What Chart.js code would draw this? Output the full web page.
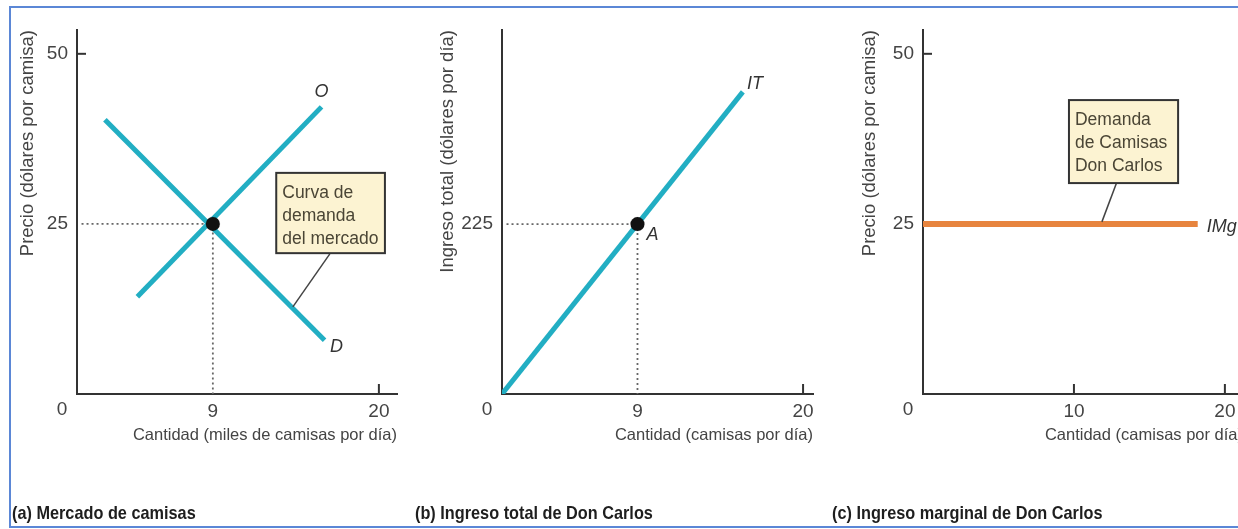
<!DOCTYPE html>
<html lang="es">
<head>
  <meta charset="UTF-8">
  <title>Mercado de camisas - Don Carlos</title>
  <script src="https://cdn.jsdelivr.net/npm/chart.js"></script>
  <style>
    body { margin: 0; width: 1238px; height: 529px; overflow: hidden; background: #fff; position: relative; }
    #frame { position: absolute; left: 9px; top: 6px; width: 1300px; height: 518px; border: 2px solid #5b87d6; border-right: none; }
    canvas { position: absolute; top: 0; }
    .cap { position: absolute; top: 502px; font-family: "Liberation Sans", Arial, sans-serif; white-space: nowrap;
           font-weight: bold; font-size: 18.5px; color: #1e1e1e; transform: scaleX(0.88); transform-origin: left top; }
  </style>
</head>
<body>
  <div id="frame"></div>
  <canvas id="chartA" width="410" height="529" style="left:0"></canvas>
  <canvas id="chartB" width="420" height="529" style="left:410px"></canvas>
  <canvas id="chartC" width="420" height="529" style="left:830px"></canvas>
  <div class="cap" style="left:12px">(a) Mercado de camisas</div>
  <div class="cap" style="left:415px">(b) Ingreso total de Don Carlos</div>
  <div class="cap" style="left:832px">(c) Ingreso marginal de Don Carlos</div>

  <script>
    // (a) mercado: oferta O y demanda D (miles de camisas, dólares)
    const supplyQ = [4.0, 16.2];
    const supplyP = [14.3, 42.2];
    const demandQ = [1.85, 16.4];
    const demandP = [40.3, 7.9];
    const eqQ = 9;
    const eqP = 25;

    // (b) ingreso total IT
    const itQ = [0, 16];
    const itValue = [0, 400];
    const pointA = [9, 225];

    // (c) ingreso marginal IMg
    const imgQ = [0, 18.2];
    const imgP = [25, 25];

    // marcas de los ejes
    const ticksAx = [9, 20], ticksAy = [25, 50];
    const ticksBx = [9, 20], ticksBy = [225];
    const ticksCx = [10, 20], ticksCy = [25, 50];

    const TEAL = '#22aec3';
    const ORANGE = '#e7843e';
    const FONT = '"Liberation Sans", Arial, sans-serif';

    const pts = (xs, ys) => xs.map((v, i) => ({ x: v, y: ys[i] }));

    // dibuja etiquetas, cajas, líneas guía y marcas interiores
    const extras = {
      id: 'extras',
      afterDatasetsDraw(chart, args, opts) {
        const { ctx, chartArea } = chart;
        const sx = chart.scales.x, sy = chart.scales.y;
        const px = v => sx.getPixelForValue(v);
        const py = v => sy.getPixelForValue(v);
        ctx.save();
        ctx.strokeStyle = '#333';
        ctx.lineWidth = 2;
        (opts.xMarks || []).forEach(v => {
          ctx.beginPath();
          ctx.moveTo(px(v), chartArea.bottom);
          ctx.lineTo(px(v), chartArea.bottom - 10);
          ctx.stroke();
        });
        (opts.yMarks || []).forEach(v => {
          ctx.beginPath();
          ctx.moveTo(chartArea.left, py(v));
          ctx.lineTo(chartArea.left + 9, py(v));
          ctx.stroke();
        });
        ctx.lineWidth = 1.5;
        ctx.strokeStyle = '#444';
        (opts.leaders || []).forEach(l => {
          ctx.beginPath();
          ctx.moveTo(px(l[0]), py(l[1]));
          ctx.lineTo(px(l[2]), py(l[3]));
          ctx.stroke();
        });
        (opts.boxes || []).forEach(b => {
          const x0 = px(b.x0), x1 = px(b.x1), y0 = py(b.y0), y1 = py(b.y1);
          ctx.fillStyle = '#fcf3d2';
          ctx.fillRect(x0, y0, x1 - x0, y1 - y0);
          ctx.lineWidth = 2;
          ctx.strokeStyle = '#333';
          ctx.strokeRect(x0, y0, x1 - x0, y1 - y0);
          ctx.fillStyle = '#4a4535';
          ctx.font = '17.5px ' + FONT;
          ctx.textAlign = 'left';
          ctx.textBaseline = 'middle';
          b.lines.forEach((t, i) => ctx.fillText(t, x0 + 6, y0 + 20 + i * 23));
        });
        ctx.fillStyle = '#333';
        ctx.font = 'italic 18px ' + FONT;
        ctx.textBaseline = 'middle';
        (opts.labels || []).forEach(l => {
          ctx.textAlign = l.align || 'center';
          ctx.fillText(l.text, px(l.x), py(l.y));
        });
        if (opts.origin) {
          ctx.font = '19px ' + FONT;
          ctx.fillStyle = '#444';
          ctx.textAlign = 'center';
          ctx.fillText(opts.origin, chartArea.left - 15, chartArea.bottom + 16);
        }
        ctx.restore();
      }
    };

    function makeChart(id, cfg) {
      return new Chart(document.getElementById(id), {
        type: 'line',
        data: { datasets: cfg.datasets },
        plugins: [extras],
        options: {
          responsive: false,
          animation: false,
          layout: { padding: { top: 30, bottom: 75, left: 0, right: cfg.padRight } },
          elements: { line: { tension: 0, borderCapStyle: 'butt' }, point: { radius: 0 } },
          plugins: { legend: { display: false }, tooltip: { enabled: false }, extras: cfg.extras },
          scales: {
            x: {
              type: 'linear', min: 0, max: cfg.xMax,
              afterBuildTicks: s => { s.ticks = cfg.xTicks.map(v => ({ value: v })); },
              afterFit: s => { s.height = 60; },
              grid: { display: false, drawTicks: false },
              border: { display: true, color: '#333', width: 2 },
              ticks: { padding: 6, color: '#444', font: { family: FONT, size: 19 } },
              title: { display: true, text: cfg.xTitle, align: 'end', color: '#444',
                       font: { family: FONT, size: 16.5 }, padding: { top: 0, bottom: 9 } }
            },
            y: {
              type: 'linear', min: 0, max: cfg.yMax,
              afterBuildTicks: s => { s.ticks = cfg.yTicks.map(v => ({ value: v })); },
              afterFit: s => { s.width = cfg.yWidth; },
              grid: { display: false, drawTicks: false },
              border: { display: true, color: '#333', width: 2 },
              ticks: { padding: 9, color: '#444', font: { family: FONT, size: 19 } },
              title: { display: true, text: cfg.yTitle, align: 'end', color: '#444',
                       font: { family: FONT, size: 18.5 }, padding: { top: cfg.yTitlePad, bottom: 0 } }
            }
          }
        }
      });
    }

    // (a) Mercado de camisas
    makeChart('chartA', {
      padRight: 13, xMax: 21.2, yMax: 53.5, yWidth: 77, yTitlePad: 17,
      xTicks: ticksAx, yTicks: ticksAy,
      xTitle: 'Cantidad (miles de camisas por día)',
      yTitle: 'Precio (dólares por camisa)',
      datasets: [
        { type: 'scatter', data: [{ x: eqQ, y: eqP }], pointRadius: 7, backgroundColor: '#111', order: 0 },
        { data: pts(supplyQ, supplyP), borderColor: TEAL, borderWidth: 5, order: 1 },
        { data: pts(demandQ, demandP), borderColor: TEAL, borderWidth: 5, order: 1 },
        { data: [{ x: 0.3, y: eqP }, { x: eqQ, y: eqP }, { x: eqQ, y: 0 }], borderColor: '#666',
          borderWidth: 1.8, borderDash: [2, 3], order: 2 }
      ],
      extras: {
        origin: '0', xMarks: [20], yMarks: [50],
        leaders: [[16.75, 20.6, 14.3, 12.8]],
        boxes: [{ x0: 13.2, x1: 20.4, y0: 32.5, y1: 20.7, lines: ['Curva de', 'demanda', 'del mercado'] }],
        labels: [{ text: 'O', x: 16.2, y: 44.4 }, { text: 'D', x: 17.2, y: 6.9 }]
      }
    });

    // (b) Ingreso total de Don Carlos
    makeChart('chartB', {
      padRight: 17, xMax: 20.66, yMax: 482, yWidth: 92, yTitlePad: 27,
      xTicks: ticksBx, yTicks: ticksBy,
      xTitle: 'Cantidad (camisas por día)',
      yTitle: 'Ingreso total (dólares por día)',
      datasets: [
        { type: 'scatter', data: [{ x: pointA[0], y: pointA[1] }], pointRadius: 7, backgroundColor: '#111', order: 0 },
        { data: pts(itQ, itValue), borderColor: TEAL, borderWidth: 5, order: 1 },
        { data: [{ x: 0.3, y: pointA[1] }, { x: pointA[0], y: pointA[1] }, { x: pointA[0], y: 0 }],
          borderColor: '#666', borderWidth: 1.8, borderDash: [2, 3], order: 2 }
      ],
      extras: {
        origin: '0', xMarks: [20],
        labels: [{ text: 'IT', x: 16.8, y: 411 }, { text: 'A', x: 10.0, y: 211 }]
      }
    });

    // (c) Ingreso marginal de Don Carlos
    makeChart('chartC', {
      padRight: 7, xMax: 21.2, yMax: 53.5, yWidth: 93, yTitlePad: 29,
      xTicks: ticksCx, yTicks: ticksCy,
      xTitle: 'Cantidad (camisas por día)',
      yTitle: 'Precio (dólares por camisa)',
      datasets: [
        { data: pts(imgQ, imgP), borderColor: ORANGE, borderWidth: 6 }
      ],
      extras: {
        origin: '0', xMarks: [10, 20], yMarks: [50],
        leaders: [[12.8, 30.9, 11.85, 25.3]],
        boxes: [{ x0: 9.67, x1: 16.9, y0: 43.2, y1: 31.0, lines: ['Demanda', 'de Camisas', 'Don Carlos'] }],
        labels: [{ text: 'IMg', x: 18.8, y: 24.6, align: 'left' }]
      }
    });
  </script>
</body>
</html>
